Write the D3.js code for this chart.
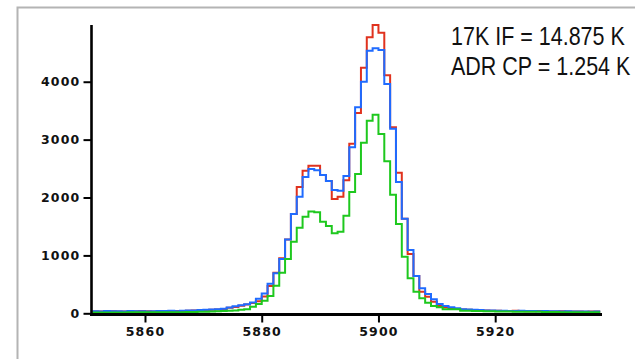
<!DOCTYPE html>
<html>
<head>
<meta charset="utf-8">
<script src="https://cdn.jsdelivr.net/npm/d3@7"></script>
<style>
  html, body { margin: 0; padding: 0; background: #fff; }
  svg { display: block; }
</style>
</head>
<body>
<svg id="chart" width="635" height="359"></svg>
<script>
// ---- data ----
const binStart = 5851;           // first bin lower edge (bins are 1 unit wide)
const redValues = [
  30,30,35,35,30,30,30,35,40,35,30,35,35,40,40,40,45,50,50,
  55,60,65,75,95,110,130,
  150,180,210,290,470,700,950,1275,1715,2180,2463,2549,2549,
  2389,2285,1974,2014,2300,2930,3460,4242,4767,4980,
  4846,4110,3212,2428,1634,1024,644,374,287,201,
  126,103,85,75,65,60,55,50,50,45,
  45,40,40,45,40,35,35,40,35,30,30,35,30,30,30,25,30,30
];
const blueValues = [
  35,30,40,35,35,30,40,35,35,30,35,40,40,45,35,45,50,50,55,
  60,65,70,80,100,120,140,
  155,185,250,340,510,690,940,1275,1715,2014,2355,2492,2470,
  2389,2285,2130,2118,2371,2870,3558,4000,4536,4580,
  4550,3960,3188,2268,1634,1093,644,431,333,241,
  161,126,103,86,69,65,60,55,50,50,
  45,45,40,40,45,40,40,35,40,35,35,30,35,30,30,30,25,30
];
const greenValues = [
  15,15,15,15,15,15,18,18,18,18,18,20,20,20,20,20,22,22,25,
  25,30,35,40,45,50,60,
  69,115,161,215,300,475,701,938,1234,1479,1669,1758,1747,
  1582,1508,1382,1410,1686,2095,2406,2947,3327,3430,
  3097,2625,2048,1542,978,604,374,259,183,126,
  103,69,69,69,45,45,40,40,35,35,
  30,30,30,28,28,25,25,25,22,22,22,20,20,20,20,20,20,20
];
const xTicks = [5860, 5880, 5900, 5920];
const yTicks = [0, 1000, 2000, 3000, 4000];
const annotations = ["17K IF = 14.875 K", "ADR CP = 1.254 K"];

// ---- layout ----
const svg = d3.select("#chart");
const x = d3.scaleLinear().domain([5850.75, 5938.3]).range([91, 602]);
const y = d3.scaleLinear().domain([0, 4980]).range([313.3, 25]);

// outer gray frame
svg.append("rect")
  .attr("x", 17.5).attr("y", 7.5).attr("width", 700).attr("height", 500)
  .attr("fill", "none").attr("stroke", "#b4b4b4").attr("stroke-width", 2);

// series
const series = [
  {vals: redValues, color: "#e0321e"},
  {vals: blueValues, color: "#1f6bff"},
  {vals: greenValues, color: "#1ec81e"}
];
const line = d3.line().x(d => x(d[0])).y(d => y(d[1])).curve(d3.curveStepAfter);
series.forEach(s => {
  const pts = s.vals.map((v, i) => [binStart + i, v]);
  pts.push([binStart + s.vals.length, s.vals[s.vals.length - 1]]);
  svg.append("path")
    .attr("d", line(pts))
    .attr("fill", "none")
    .attr("stroke", s.color)
    .attr("stroke-width", 2)
    .attr("stroke-linejoin", "miter");
});

// axes
const xAxis = d3.axisBottom(x).tickValues(xTicks).tickFormat(d3.format("d")).tickSize(8).tickPadding(5);
const gx = svg.append("g").attr("transform", "translate(0,314.5)").call(xAxis);
gx.select(".domain").remove();
gx.append("line").attr("x1", 90).attr("x2", 602).attr("y1", 0).attr("y2", 0)
  .attr("stroke", "#000").attr("stroke-width", 3);
gx.selectAll(".tick line").attr("stroke", "#000").attr("stroke-width", 2);

const yAxis = d3.axisLeft(y).tickValues(yTicks).tickFormat(d3.format("d")).tickSize(8).tickPadding(3);
const gy = svg.append("g").attr("transform", "translate(91.5,0)").call(yAxis);
gy.select(".domain").remove();
gy.append("line").attr("x1", 0).attr("x2", 0).attr("y1", 25).attr("y2", 316)
  .attr("stroke", "#000").attr("stroke-width", 2.6);
gy.selectAll(".tick line").attr("stroke", "#000").attr("stroke-width", 2);

svg.selectAll(".tick text")
  .attr("font-family", "'DejaVu Sans', Verdana, sans-serif")
  .attr("font-weight", "bold")
  .attr("font-size", "12.5px")
  .attr("letter-spacing", "1.2px")
  .attr("fill", "#111");

// annotation text (condensed via horizontal scale)
const annY = [45, 75];
annotations.forEach((t, i) => {
  svg.append("text")
    .attr("transform", `translate(451,${annY[i]}) scale(0.86,1)`)
    .attr("font-family", "'Liberation Sans', Arial, sans-serif")
    .attr("font-size", "25px")
    .attr("fill", "#111")
    .text(t);
});
</script>
</body>
</html>
